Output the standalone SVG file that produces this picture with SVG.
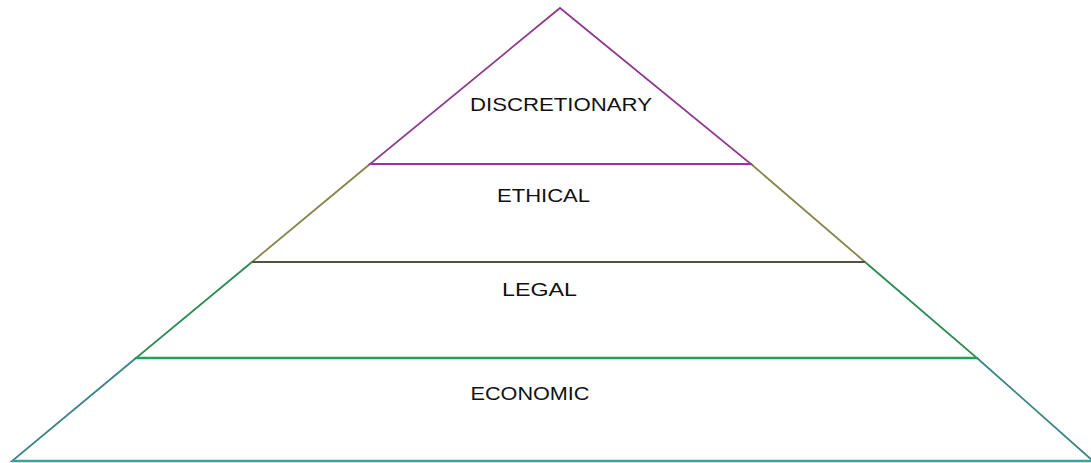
<svg xmlns="http://www.w3.org/2000/svg" width="1091" height="463" viewBox="0 0 1091 463">
  <style>
    .tier { fill: #ffffff; stroke-width: 1.8; stroke-linejoin: miter; }
    .label { font-family: "Liberation Sans", Arial, sans-serif; font-size: 18px; fill: #111111; text-anchor: middle; }
  </style>
  <rect width="1091" height="463" fill="#ffffff"/>
  <!-- pyramid tiers, bottom to top -->
  <g id="economic">
    <polygon class="tier" points="136,358 977,358 1093,461 12,461" stroke="#3a8587"/>
    <text class="label" x="530" y="400" textLength="119" lengthAdjust="spacingAndGlyphs">ECONOMIC</text>
  </g>
  <g id="legal">
    <polygon class="tier" points="252,262 865,262 977,358 136,358" stroke="#2c8c52"/>
    <text class="label" x="539.5" y="296" textLength="75" lengthAdjust="spacingAndGlyphs">LEGAL</text>
  </g>
  <g id="ethical">
    <polygon class="tier" points="370,164 751,164 865,262 252,262" stroke="#86864a"/>
    <text class="label" x="543.5" y="202" textLength="93" lengthAdjust="spacingAndGlyphs">ETHICAL</text>
  </g>
  <g id="discretionary">
    <polygon class="tier" points="560,8 751,164 370,164" stroke="#8f3a90"/>
    <text class="label" x="561" y="111" textLength="182" lengthAdjust="spacingAndGlyphs">DISCRETIONARY</text>
  </g>
  <!-- tier boundaries -->
  <g id="connectors" fill="none">
    <line x1="370" y1="164" x2="751" y2="164" stroke="#a030a8" stroke-width="2"/>
    <line x1="252" y1="262" x2="865" y2="262" stroke="#404040" stroke-width="1.6"/>
    <line x1="136" y1="358" x2="977" y2="358" stroke="#22a060" stroke-width="2.6"/>
    <line x1="12" y1="461" x2="1091" y2="461" stroke="#40a0a0" stroke-width="2.4"/>
  </g>
</svg>
